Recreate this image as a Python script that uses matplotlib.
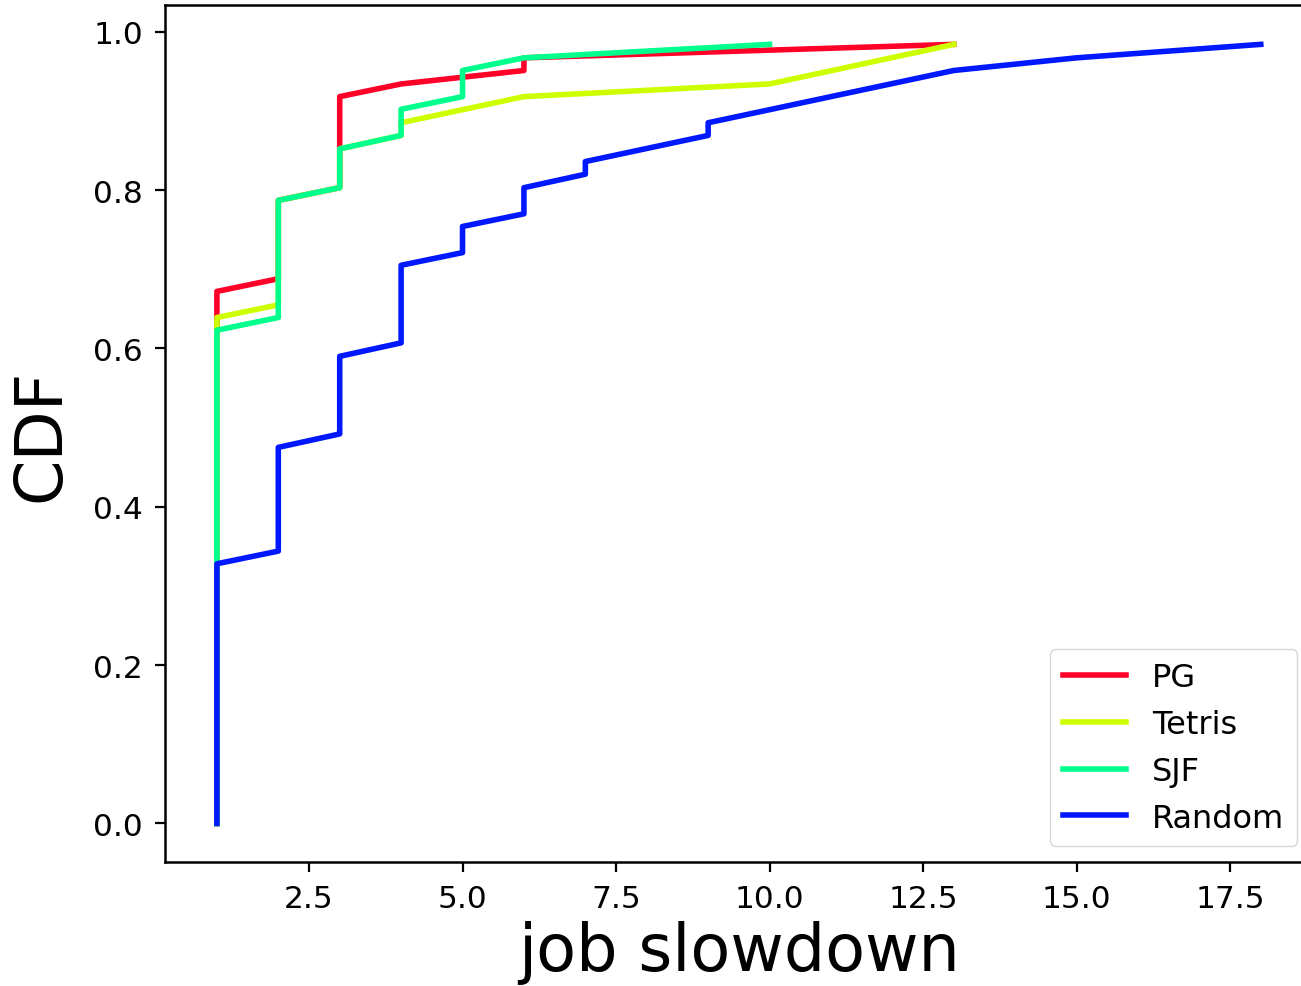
import matplotlib
matplotlib.use("Agg")
import matplotlib.pyplot as plt
import numpy as np

# CDF points (x = job slowdown, y = CDF)
pg_x = [1, 1, 2, 2, 3, 3, 4, 6, 6, 13]
pg_y = [0, 0.672, 0.688, 0.787, 0.803, 0.918, 0.934, 0.951, 0.967, 0.984]

tetris_x = [1, 1, 2, 2, 3, 3, 4, 4, 6, 10, 13]
tetris_y = [0, 0.639, 0.655, 0.787, 0.803, 0.852, 0.869, 0.885, 0.918, 0.934, 0.984]

sjf_x = [1, 1, 2, 2, 3, 3, 4, 4, 5, 5, 6, 10]
sjf_y = [0, 0.623, 0.639, 0.787, 0.803, 0.852, 0.869, 0.902, 0.918, 0.951, 0.967, 0.984]

random_x = [1, 1, 2, 2, 3, 3, 4, 4, 5, 5, 6, 6, 7, 7, 9, 9, 13, 15, 18]
random_y = [0, 0.328, 0.344, 0.475, 0.492, 0.590, 0.607, 0.705, 0.721, 0.754,
            0.770, 0.803, 0.820, 0.836, 0.869, 0.885, 0.951, 0.967, 0.984]

labels = ["PG", "Tetris", "SJF", "Random"]
series = [(pg_x, pg_y), (tetris_x, tetris_y), (sjf_x, sjf_y), (random_x, random_y)]
colors = plt.cm.gist_rainbow(np.linspace(0, 1, 5))[:4]

fig = plt.figure(figsize=(13.01, 9.87), dpi=100)
ax = fig.add_axes([0.1266, 0.1252, 0.8826, 0.8683])

for (x, y), lab, c in zip(series, labels, colors):
    ax.plot(x, y, color=c, linewidth=4, label=lab)

for s in ax.spines.values():
    s.set_linewidth(1.8)
ax.tick_params(labelsize=22.5, length=7.5, width=1.6, pad=8)

ax.set_xlabel("job slowdown", fontsize=47, labelpad=5)
ax.set_ylabel("CDF", fontsize=47, labelpad=14)

ax.legend(loc="lower right", fontsize=23, handlelength=2.0)

fig.savefig("out.png", dpi=100)
